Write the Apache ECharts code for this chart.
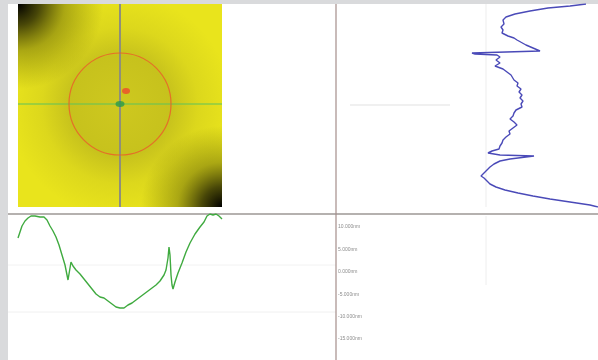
<!DOCTYPE html>
<html><head><meta charset="utf-8">
<script src="https://cdn.jsdelivr.net/npm/echarts@6/dist/echarts.min.js"></script>
<style>html,body{margin:0;padding:0;background:#d9dadc}#c{width:598px;height:360px}</style>
</head><body><div id="c"></div>
<script>
// Vertical (right) profile: depth position along scan, height value
const blueDepth = [0,2,4,7,10,13,16,20,23,26,29,32,34,36,38,41,44,47,48,49,50,51,53,56,59,62,65,68,71,73,76,79,82,85,88,91,94,97,100,103,106,109,112,115,118,121,124,127,130,133,136,139,142,145,147,149,150,151,152,153,155,157,160,163,166,169,172,174,177,180,183,186,189,192,195,198,201,203];
const blueValue = [250,234,212,194,179,170,167,168,165,167,166,172,178,181,182,190,197,204,203,136,139,161,164,160,164,159,167,171,175,174,178,182,181,185,183,186,184,187,185,186,180,178,177,174,178,181,177,173,174,170,167,166,164,163,156,152,151,164,198,199,174,164,158,154,151,148,145,148,151,154,160,169,182,197,214,234,254,262];
// Horizontal (bottom) profile: position along scan, height value
const greenPos = [0,2,4,7,10,13,17,22,26,29,32,35,38,41,44,47,49,50,51,52,53,55,58,62,66,70,74,78,82,86,90,94,98,102,106,110,114,118,122,126,130,134,138,142,146,148,150,151,152,153,154,155,157,160,164,168,172,177,182,186,189,192,195,198,201,204];
const greenValue = [72,78,84,89,92,94,94,93,93,90,84,79,73,65,55,45,35,30,32,42,48,44,40,36,31,26,21,16,13,12,9,6,3,2,2,5,7,10,13,16,19,22,25,29,35,40,52,63,55,35,25,21,28,37,47,58,67,76,83,88,94,96,95,96,94,91];
// Map markers: fitted circle centre, peak marker, image centre
const circleCentre = [102, 100];
const peakMarker = [108, 87];
const imageCentre = [102, 100];
// Scale tick labels
const tickLabels = ['10.000nm','5.000nm','0.000nm','-5.000nm','-10.000nm','-15.000nm'];

const chart = echarts.init(document.getElementById('c'), null, {renderer:'canvas'});
const H = {left:18, top:4, width:204, height:203};
const rg = (x,y,r,stops)=>new echarts.graphic.RadialGradient(x,y,r,stops);
const cornerStops = [
  {offset:0,color:'rgba(0,0,0,1)'},{offset:0.25,color:'rgba(10,10,0,0.72)'},
  {offset:0.55,color:'rgba(40,40,0,0.32)'},{offset:1,color:'rgba(60,60,0,0)'}];
const option = {
  backgroundColor:'#d9dadc',
  animation:false,
  grid:[
    {left:18, top:4, width:204, height:203},
    {left:336, top:4, width:262, height:203},
    {left:18, top:214, width:204, height:96},
    {left:336, top:227, right:0, height:112}
  ],
  xAxis:[
    {gridIndex:0,type:'value',min:0,max:204,show:false},
    {gridIndex:1,type:'value',min:0,max:262,show:false},
    {gridIndex:2,type:'value',min:0,max:204,show:false},
    {gridIndex:3,type:'value',min:0,max:1,show:false}
  ],
  yAxis:[
    {gridIndex:0,type:'value',min:0,max:203,inverse:true,show:false},
    {gridIndex:1,type:'value',min:0,max:203,inverse:true,show:false},
    {gridIndex:2,type:'value',min:0,max:96,show:false},
    {gridIndex:3,type:'value',min:0,max:5,interval:1,inverse:true,
     axisLine:{show:false},axisTick:{show:false},splitLine:{show:false},
     axisLabel:{inside:true,margin:2,fontSize:5,color:'#8c8c8c',fontFamily:'Liberation Sans',
       formatter:(v)=>tickLabels[v]}}
  ],
  graphic:[
    {type:'rect',z:0,shape:{x:8,y:4,width:590,height:356},style:{fill:'#ffffff'}},
    // heatmap image background
    {type:'rect',z:1,shape:{x:H.left,y:H.top,width:H.width,height:H.height},style:{fill:'#e9e41c'}},
    {type:'rect',z:1,shape:{x:H.left,y:H.top,width:H.width,height:H.height},
      style:{fill:rg(0.5,0.5,0.55,[{offset:0,color:'rgba(120,112,40,0.24)'},{offset:0.45,color:'rgba(110,105,30,0.28)'},{offset:0.7,color:'rgba(110,105,30,0.1)'},{offset:1,color:'rgba(110,105,30,0)'}])}},
    {type:'rect',z:1,shape:{x:H.left,y:H.top,width:H.width,height:H.height},style:{fill:rg(0,0,0.42,cornerStops)}},
    {type:'rect',z:1,shape:{x:H.left,y:H.top,width:H.width,height:H.height},style:{fill:rg(1,1,0.40,cornerStops)}},
    // crosshair
    {type:'line',z:5,shape:{x1:H.left,y1:104,x2:H.left+H.width,y2:104},style:{stroke:'#5cc35a',lineWidth:1}},
    {type:'line',z:5,shape:{x1:120,y1:4,x2:120,y2:207},style:{stroke:'#8f8f7a',lineWidth:2}},
    // faint grid
    {type:'line',z:1,shape:{x1:486,y1:4,x2:486,y2:207},style:{stroke:'#ededed',lineWidth:1}},
    {type:'line',z:1,shape:{x1:486,y1:216,x2:486,y2:285},style:{stroke:'#eeeeee',lineWidth:1}},
    {type:'line',z:1,shape:{x1:350,y1:105,x2:450,y2:105},style:{stroke:'#f0f0f0',lineWidth:2}},
    {type:'line',z:1,shape:{x1:8,y1:265,x2:336,y2:265},style:{stroke:'#f2f2f2',lineWidth:1}},
    {type:'line',z:1,shape:{x1:8,y1:312,x2:336,y2:312},style:{stroke:'#f0f0f0',lineWidth:1}},
    // frame lines
    {type:'line',z:6,shape:{x1:8,y1:214,x2:598,y2:214},style:{stroke:'#9d9794',lineWidth:1.5}},
    {type:'line',z:6,shape:{x1:336,y1:4,x2:336,y2:360},style:{stroke:'#a48e8a',lineWidth:1.2}}
  ],
  series:[
    {type:'scatter',xAxisIndex:0,yAxisIndex:0,z:7,data:[circleCentre],symbol:'circle',symbolSize:102,
      itemStyle:{color:'rgba(0,0,0,0)',borderColor:'#ec5a2a',borderWidth:1.2},silent:true},
    {type:'scatter',xAxisIndex:0,yAxisIndex:0,z:8,data:[peakMarker],symbol:'circle',symbolSize:[8,6],
      itemStyle:{color:'#ee4a2c'}},
    {type:'scatter',xAxisIndex:0,yAxisIndex:0,z:8,data:[imageCentre],symbol:'circle',symbolSize:[9,6],
      itemStyle:{color:'#2a9a4a'}},
    {type:'line',xAxisIndex:1,yAxisIndex:1,z:8,showSymbol:false,
      data:blueDepth.map((d,i)=>[blueValue[i],d]),
      lineStyle:{color:'#4a4ab8',width:1.4}},
    {type:'line',xAxisIndex:2,yAxisIndex:2,z:8,showSymbol:false,
      data:greenPos.map((p,i)=>[p,greenValue[i]]),
      lineStyle:{color:'#3faa3f',width:1.4}},
    {type:'line',xAxisIndex:3,yAxisIndex:3,data:[],showSymbol:false}
  ]
};
chart.setOption(option);
</script></body></html>
